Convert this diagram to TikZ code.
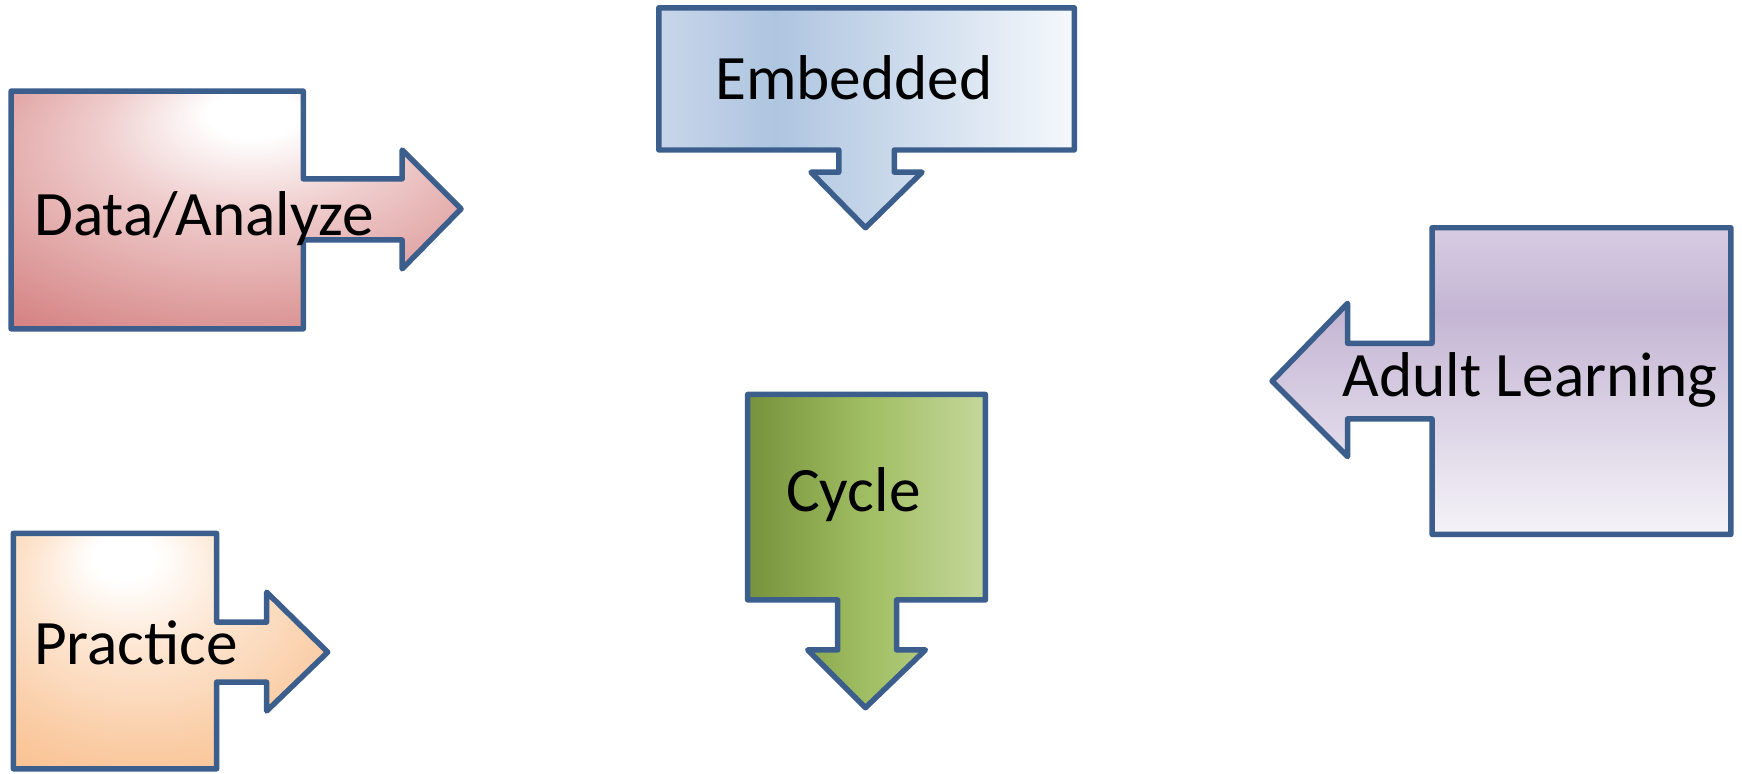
\documentclass[tikz,border=0pt]{standalone}
\usepackage{fontspec}
\setmainfont{Carlito}
\usepackage{tikz}
\usetikzlibrary{positioning}
\definecolor{outlineColor}{RGB}{59,94,140}
\definecolor{dataDark}{RGB}{207,112,112}
\definecolor{dataMid}{RGB}{224,162,162}
\definecolor{dataLight}{RGB}{240,207,207}
\definecolor{practiceDark}{RGB}{249,186,134}
\definecolor{practiceMid}{RGB}{250,206,168}
\definecolor{practiceLight}{RGB}{253,230,210}
\definecolor{embeddedEdge}{RGB}{200,214,234}
\definecolor{embeddedDark}{RGB}{174,197,224}
\definecolor{embeddedLight}{RGB}{245,248,252}
\definecolor{cycleDark}{RGB}{118,146,60}
\definecolor{cycleMid}{RGB}{160,190,98}
\definecolor{cycleLight}{RGB}{196,215,155}
\definecolor{adultTop}{RGB}{214,204,226}
\definecolor{adultDark}{RGB}{196,182,212}
\definecolor{adultLight}{RGB}{245,243,248}
\pgfdeclareradialshading{dataShade}{\pgfpoint{2bp}{22bp}}{color(0bp)=(white); color(5bp)=(white); color(16bp)=(dataLight); color(30bp)=(dataMid); color(46bp)=(dataDark); color(60bp)=(dataDark)}
\pgfdeclareradialshading{practiceShade}{\pgfpoint{-8bp}{22bp}}{color(0bp)=(white); color(5bp)=(white); color(16bp)=(practiceLight); color(30bp)=(practiceMid); color(44bp)=(practiceDark); color(60bp)=(practiceDark)}
\pgfdeclarehorizontalshading{embeddedShade}{100bp}{color(0bp)=(embeddedEdge); color(25bp)=(embeddedEdge); color(39bp)=(embeddedDark); color(75bp)=(embeddedLight); color(100bp)=(embeddedLight)}
\pgfdeclarehorizontalshading{cycleShade}{100bp}{color(0bp)=(cycleDark); color(25bp)=(cycleDark); color(50bp)=(cycleMid); color(75bp)=(cycleLight); color(100bp)=(cycleLight)}
\pgfdeclareverticalshading{adultShade}{100bp}{color(0bp)=(adultLight); color(25bp)=(adultLight); color(61bp)=(adultDark); color(75bp)=(adultTop); color(100bp)=(adultTop)}
\tikzstyle{calloutStyle} = [draw=outlineColor, line width=1.4pt, line join=round]
\tikzstyle{calloutText} = [anchor=base west, inner sep=0pt, font=\fontsize{16.2pt}{19pt}\selectfont]
\newcommand{\calloutLabel}[3]{\node [calloutText] (#1) at (#2) {#3};}

\begin{document}
\begin{tikzpicture}[x=0.01cm, y=-0.01cm]
  \useasboundingbox (0,0) rectangle (1568,696);
  % data / analyze, arrow to the right
  \path [calloutStyle, shading=dataShade] (10,82) -- (273,82) -- (273,161) -- (362,161) -- (362,135) -- (415,188)
    -- (362,242) -- (362,216) -- (273,216) -- (273,296) -- (10,296) -- cycle;
  \calloutLabel{data}{30,212}{Data/Analyze}
  % embedded, arrow down
  \path [calloutStyle, shading=embeddedShade] (593,7) -- (967,7) -- (967,135) -- (805,135) -- (805,155) -- (830,155)
    -- (779,205) -- (730,155) -- (755,155) -- (755,135) -- (593,135) -- cycle;
  \calloutLabel{embedded}{643,90}{Embedded}
  % cycle, arrow down
  \path [calloutStyle, shading=cycleShade] (673,355) -- (887,355) -- (887,540) -- (807,540) -- (807,585) -- (833,585)
    -- (779,637) -- (727,585) -- (754,585) -- (754,540) -- (673,540) -- cycle;
  \calloutLabel{cycle}{707,460}{Cycle}
  % adult learning, arrow to the left
  \path [calloutStyle, shading=adultShade] (1289,205) -- (1558,205) -- (1558,481) -- (1289,481) -- (1289,377) -- (1213,377)
    -- (1213,411) -- (1145,343) -- (1213,273) -- (1213,309) -- (1289,309) -- cycle;
  \calloutLabel{adult}{1208,357}{Adult Learning}
  % practice, arrow to the right
  \path [calloutStyle, shading=practiceShade] (12,480) -- (195,480) -- (195,560) -- (240,560) -- (240,533) -- (295,587)
    -- (240,640) -- (240,614) -- (195,614) -- (195,692) -- (12,692) -- cycle;
  \calloutLabel{practice}{30,598}{Practice}
\end{tikzpicture}
\end{document}
